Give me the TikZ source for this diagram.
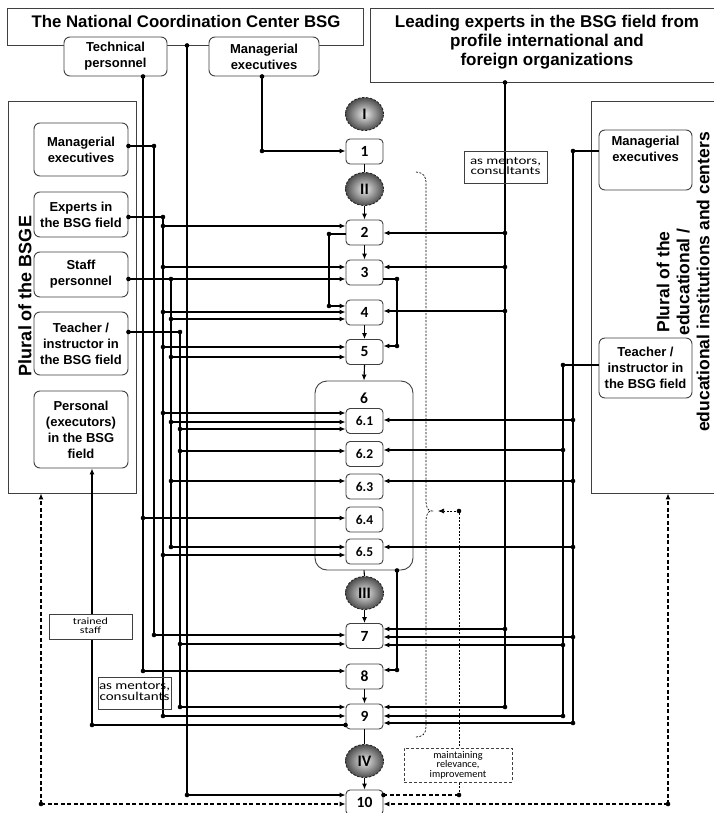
\documentclass[tikz,border=0pt]{standalone}
\usepackage{fontspec}
\usepackage{graphicx}
\setmainfont{Liberation Sans}
\newfontfamily\calfont{Carlito}
\usetikzlibrary{arrows.meta,shapes.geometric}
\newcommand\squashtext[2]{\scalebox{1}[#1]{\begin{tabular}{@{}c@{}}#2\end{tabular}}}
\newcommand\jdot[1]{\fill (#1) circle (2.3pt);}
\newcommand\inwest[3]{\fill (#1,#2) circle (2.3pt); \draw[arr] (#1,#2) -- (#3.west |- #1,#2);}
\newcommand\ineast[3]{\fill (#1,#2) circle (2.3pt); \draw[arr] (#1,#2) -- (#3.east |- #1,#2);}
\begin{document}
\begin{tikzpicture}[x=1pt,y=-1pt,line width=1.1pt,
  bd/.style={draw=black!75,line width=0.9pt},
  frame/.style={bd,fill=white,inner sep=0pt},
  rbox/.style={bd,fill=white,rounded corners=6pt,align=center,inner sep=0pt,
     font=\fontsize{13}{16}\selectfont\bfseries},
  numbox/.style={bd,fill=white,rounded corners=4pt,minimum width=37pt,minimum height=25pt,inner sep=0pt,
     font=\calfont\fontsize{15.5}{16}\selectfont\bfseries},
  subbox/.style={numbox,font=\calfont\fontsize{13.5}{14}\selectfont\bfseries},
  stage/.style={ellipse,minimum width=38pt,minimum height=33pt,inner sep=0pt,draw=black!85,line width=0.9pt,
     dash pattern=on 2.5pt off 1.5pt,inner color=black!8,outer color=black!70,
     font=\calfont\fontsize{16}{16}\selectfont\bfseries},
  arr/.style={-{Latex[length=6pt,width=5pt]}},
  bigdash/.style={dash pattern=on 4pt off 2.5pt},
  finedash/.style={line width=0.7pt,dash pattern=on 2pt off 1.5pt},
  note/.style={bd,line width=0.8pt,inner sep=0pt,align=center},
]
\useasboundingbox (0,0) rectangle (713,813);

% ---------- frames ----------
\node[frame,minimum width=356pt,minimum height=37pt] (ncc) at (185,26.5) {};
\node[font=\fontsize{16.8}{18}\selectfont\bfseries] (ncct) at (186,21) {The National Coordination Center BSG};
\node[frame,minimum width=355pt,minimum height=74pt] (lead) at (547.5,45) {};
\node[align=center,font=\fontsize{17}{19}\selectfont\bfseries] (leadt) at (547,42)
  {Leading experts in the BSG field from\\profile international and\\foreign organizations};
\node[frame,minimum width=128pt,minimum height=392pt] (lf) at (72,297) {};
\node[rotate=90,font=\fontsize{18}{20}\selectfont\bfseries] (lft) at (25,296) {Plural of the BSGE};
\node[frame,minimum width=130pt,minimum height=392pt] (rf) at (656,297) {};
\node[rotate=90,align=center,font=\fontsize{17.5}{20}\selectfont\bfseries] (rft) at (683,282)
  {Plural of the\\educational /\\educational institutions and centers};

% ---------- top boxes ----------
\node[rbox,minimum width=103pt,minimum height=39pt] (tech) at (115.5,56.5) {Technical\\personnel};
\node[rbox,minimum width=110pt,minimum height=39pt] (tman) at (264,56.5) {Managerial\\executives};

% ---------- left boxes ----------
\node[rbox,minimum width=94pt,minimum height=53pt] (lman) at (81,149.5) {Managerial\\executives};
\node[rbox,minimum width=94pt,minimum height=45pt] (lexp) at (81,214.5) {Experts in\\the BSG field};
\node[rbox,minimum width=94pt,minimum height=45pt] (lstaff) at (81,274.5) {Staff\\personnel};
\node[rbox,minimum width=94pt,minimum height=63pt] (lteach) at (81,343.5) {Teacher /\\instructor in\\the BSG field};
\node[rbox,minimum width=94pt,minimum height=77pt] (lpers) at (81,429.5) {Personal\\(executors)\\in the BSG\\field};

% ---------- right boxes ----------
\node[rbox,minimum width=93pt,minimum height=60pt] (rman) at (645.5,160) {Managerial\\executives\\[6pt]};
\node[rbox,minimum width=93pt,minimum height=60pt] (rteach) at (645.5,368) {Teacher /\\instructor in\\the BSG field};

% ---------- central column ----------
\node[stage] (s1) at (364.5,114) {I};
\node[numbox] (b1) at (364.5,151.5) {1};
\node[stage] (s2) at (364.5,189) {II};
\node[numbox] (b2) at (364.5,232.5) {2};
\node[numbox] (b3) at (364.5,272.5) {3};
\node[numbox] (b4) at (364.5,312.5) {4};
\node[numbox] (b5) at (364.5,352) {5};
\node[bd,rounded corners=12pt,minimum width=98pt,minimum height=189pt,inner sep=0pt] (b6) at (364,475.5) {};
\node[font=\calfont\fontsize{15.5}{16}\selectfont\bfseries] (b6t) at (364,398) {6};
\node[subbox] (b61) at (364.5,421) {6.1};
\node[subbox] (b62) at (364.5,454) {6.2};
\node[subbox] (b63) at (364.5,486.5) {6.3};
\node[subbox] (b64) at (364.5,519.5) {6.4};
\node[subbox] (b65) at (364.5,551.5) {6.5};
\node[stage] (s3) at (364.5,593) {III};
\node[numbox] (b7) at (364.5,636) {7};
\node[numbox] (b8) at (364.5,676.5) {8};
\node[numbox] (b9) at (364.5,716.5) {9};
\node[stage] (s4) at (364.5,761) {IV};
\node[numbox] (b10) at (364.5,802.5) {10};

\draw (b1.south) -- (s2.north);
\draw[arr] (s2.south) -- (b2.north);
\draw[arr] (b2.south) -- (b3.north);
\draw[arr] (b4.south) -- (b5.north);
\draw[arr] (b5.south) -- (b6.north);
\draw (b6.south) -- (s3.north);
\draw[arr] (s3.south) -- (b7.north);
\draw[arr] (b8.south) -- (b9.north);
\draw (b9.south) -- (s4.north);
\draw[arr] (s4.south) -- (b10.north);

% ---------- left buses ----------
\fill (tech.south -| 143,0) circle (2.3pt);
\draw (tech.south -| 143,0) -- (143,671);
\inwest{143}{518}{b64}
\inwest{143}{671}{b8}
\fill (ncc.south -| 187,0) circle (2.3pt);
\draw (ncc.south -| 187,0) -- (187,795);
\inwest{187}{795}{b10}
\fill (tman.south -| 262,0) circle (2.3pt);
\draw (tman.south -| 262,0) -- (262,151);
\inwest{262}{151}{b1}
\fill (lman.east |- 0,146) circle (2.3pt);
\draw (lman.east |- 0,146) -- (154,146) -- (154,635);
\jdot{154,146}
\inwest{154}{635}{b7}
\fill (lexp.east |- 0,217) circle (2.3pt);
\draw (lexp.east |- 0,217) -- (163,217) -- (163,716);
\jdot{163,217}
\inwest{163}{226}{b2}
\inwest{163}{267}{b3}
\inwest{163}{312}{b4}
\inwest{163}{347}{b5}
\inwest{163}{413}{b61}
\inwest{163}{555}{b65}
\inwest{163}{716}{b9}
\fill (lstaff.east |- 0,279) circle (2.3pt);
\draw[arr] (lstaff.east |- 0,279) -- (b3.west |- 0,279);
\jdot{171,279}
\draw (171,279) -- (171,547);
\inwest{171}{319}{b4}
\inwest{171}{357}{b5}
\inwest{171}{422}{b61}
\inwest{171}{481}{b63}
\inwest{171}{547}{b65}
\fill (lteach.east |- 0,332) circle (2.3pt);
\draw (lteach.east |- 0,332) -- (180,332) -- (180,707);
\jdot{180,332}
\inwest{180}{429}{b61}
\inwest{180}{451}{b62}
\inwest{180}{644}{b7}
\inwest{180}{707}{b9}
\fill (b9.west |- 0,725) circle (2.3pt);
\draw[arr] (b9.west |- 0,725) -- (92,725) -- (lpers.south -| 92,0);
\jdot{92,725}

% ---------- loops in the column ----------
\draw (b2.west |- 0,234) -- (329,234) -- (329,306);
\jdot{329,234}
\inwest{329}{306}{b4}
\draw (b3.east |- 0,279) -- (397,279) -- (397,346);
\jdot{397,279}
\ineast{397}{346}{b5}
\fill (b6.south -| 397,0) circle (2.3pt);
\draw (b6.south -| 397,0) -- (397,670);
\ineast{397}{670}{b8}

% ---------- right buses ----------
\fill (lead.south -| 505,0) circle (2.3pt);
\draw (lead.south -| 505,0) -- (505,707);
\ineast{505}{233}{b2}
\ineast{505}{267}{b3}
\ineast{505}{311}{b4}
\ineast{505}{629}{b7}
\ineast{505}{707}{b9}
\draw (rman.west |- 0,151) -- (573,151) -- (573,723);
\jdot{573,151}
\ineast{573}{420}{b61}
\ineast{573}{481}{b63}
\ineast{573}{547}{b65}
\ineast{573}{637}{b7}
\ineast{573}{723}{b9}
\draw (rteach.west |- 0,365) -- (563,365) -- (563,716);
\jdot{563,365}
\ineast{563}{450}{b62}
\ineast{563}{645}{b7}
\ineast{563}{716}{b9}

% ---------- dashed feedback ----------
\coordinate (dl) at (41,804);
\coordinate (dr) at (668,804);
\draw[bigdash,arr] (dl) -- (lf.south -| dl);
\draw[bigdash,arr] (dl) -- (b10.west |- dl);
\jdot{dl}
\draw[bigdash,arr] (dr) -- (rf.south -| dr);
\draw[bigdash,arr] (dr) -- (b10.east |- dr);
\jdot{dr}
\coordinate (mt) at (459,795);
\coordinate (mb) at (459,511);
\coordinate (tipin) at (438,511);
\draw[bigdash] (b10.east |- mt) -- (mt);
\fill (b10.east |- mt) circle (2.3pt);
\jdot{mt}
\draw[finedash] (mt) -- (mb);
\jdot{mb}
\draw[finedash,arr] (mb) -- (tipin);
\draw[finedash] (416,172) .. controls (424,173) and (426,176) .. (426,184) -- (426,500)
  .. controls (426,508) and (428,511) .. (432,511)
  .. controls (428,511) and (426,514) .. (426,522) -- (426,727)
  .. controls (426,734) and (422,737) .. (416,737);

% ---------- notes ----------
\node[note,dash pattern=on 3pt off 2pt,fill=white,minimum width=108pt,minimum height=34pt,
  font=\calfont\fontsize{10.3}{9.5}\selectfont] (maint) at (458,765) {maintaining\\relevance,\\improvement};
\node[note,minimum width=83pt,minimum height=32pt,font=\calfont\fontsize{15}{11}\selectfont] (ment1) at (505.5,167)
  {\squashtext{0.75}{as mentors,\\consultants}};
\node[note,minimum width=73pt,minimum height=32pt,font=\calfont\fontsize{15}{12}\selectfont] (ment2) at (134.5,693)
  {\squashtext{0.8}{as mentors,\\consultants}};
\node[note,fill=white,minimum width=83pt,minimum height=25pt,font=\calfont\fontsize{12}{10}\selectfont] (trained) at (90.5,626.5)
  {\squashtext{0.8}{trained\\staff}};
\end{tikzpicture}
\end{document}
